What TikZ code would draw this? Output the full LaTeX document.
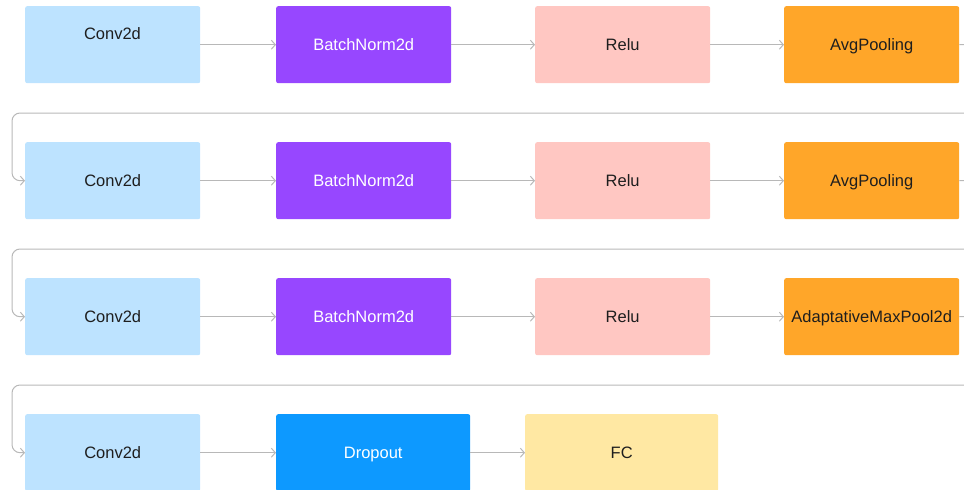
\documentclass[tikz,border=0pt]{standalone}
\usepackage{fontspec}
\setmainfont{Liberation Sans}
\usetikzlibrary{arrows.meta}
\definecolor{convblue}{HTML}{BDE3FF}
\definecolor{bnpurple}{HTML}{9747FF}
\definecolor{relupink}{HTML}{FFC7C2}
\definecolor{poolorange}{HTML}{FFA629}
\definecolor{dropblue}{HTML}{0D99FF}
\definecolor{fcyellow}{HTML}{FFE8A3}
\definecolor{inkdark}{HTML}{1E1E1E}
\definecolor{linegray}{HTML}{B8B8B8}
\begin{document}
\begin{tikzpicture}[x=1pt,y=-1pt,
  labeltext/.style={text=inkdark, font=\fontsize{16.5}{19}\selectfont,
    text height=14pt, text depth=2pt, inner sep=0pt},
  layer/.style={labeltext, anchor=north west, minimum width=175pt,
    minimum height=77pt, rounded corners=2pt},
  conv/.style={layer, fill=convblue},
  bn/.style={layer, fill=bnpurple, text=white},
  relu/.style={layer, fill=relupink},
  pool/.style={layer, fill=poolorange},
  drop/.style={layer, fill=dropblue, text=white, minimum width=194pt},
  fc/.style={layer, fill=fcyellow, minimum width=193pt},
  conn/.style={draw=linegray, line width=1pt, rounded corners=8pt,
    -{Straight Barb[length=4pt,width=9pt,line width=1pt]}}]
\useasboundingbox (0,0) rectangle (964,490);
\clip (0,0) rectangle (964,490);

% row 1
\node[conv] (c1) at (25,6) {};
\node[labeltext] (c1t) at (112.5,33) {Conv2d};
\node[bn]   (b1) at (276,6) {BatchNorm2d};
\node[relu] (r1) at (535,6) {Relu};
\node[pool] (p1) at (784,6) {AvgPooling};

% row 2
\node[conv] (c2) at (25,142) {Conv2d};
\node[bn]   (b2) at (276,142) {BatchNorm2d};
\node[relu] (r2) at (535,142) {Relu};
\node[pool] (p2) at (784,142) {AvgPooling};

% row 3
\node[conv] (c3) at (25,278) {Conv2d};
\node[bn]   (b3) at (276,278) {BatchNorm2d};
\node[relu] (r3) at (535,278) {Relu};
\node[pool] (p3) at (784,278) {AdaptativeMaxPool2d};

% row 4
\node[conv] (c4) at (25,414) {Conv2d};
\node[drop] (d4) at (276,414) {Dropout};
\node[fc]   (f4) at (525,414) {FC};

% connectors within rows
\draw[conn] (c1.east) -- (b1.west);
\draw[conn] (b1.east) -- (r1.west);
\draw[conn] (r1.east) -- (p1.west);
\draw[conn] (c2.east) -- (b2.west);
\draw[conn] (b2.east) -- (r2.west);
\draw[conn] (r2.east) -- (p2.west);
\draw[conn] (c3.east) -- (b3.west);
\draw[conn] (b3.east) -- (r3.west);
\draw[conn] (r3.east) -- (p3.west);
\draw[conn] (c4.east) -- (d4.west);
\draw[conn] (d4.east) -- (f4.west);

% wrap-around connectors between rows
\draw[conn] (p1.east) -- ++(24,0) |- (12,113) |- (c2.west);
\draw[conn] (p2.east) -- ++(24,0) |- (12,249) |- (c3.west);
\draw[conn] (p3.east) -- ++(24,0) |- (12,385) |- (c4.west);
\end{tikzpicture}
\end{document}
